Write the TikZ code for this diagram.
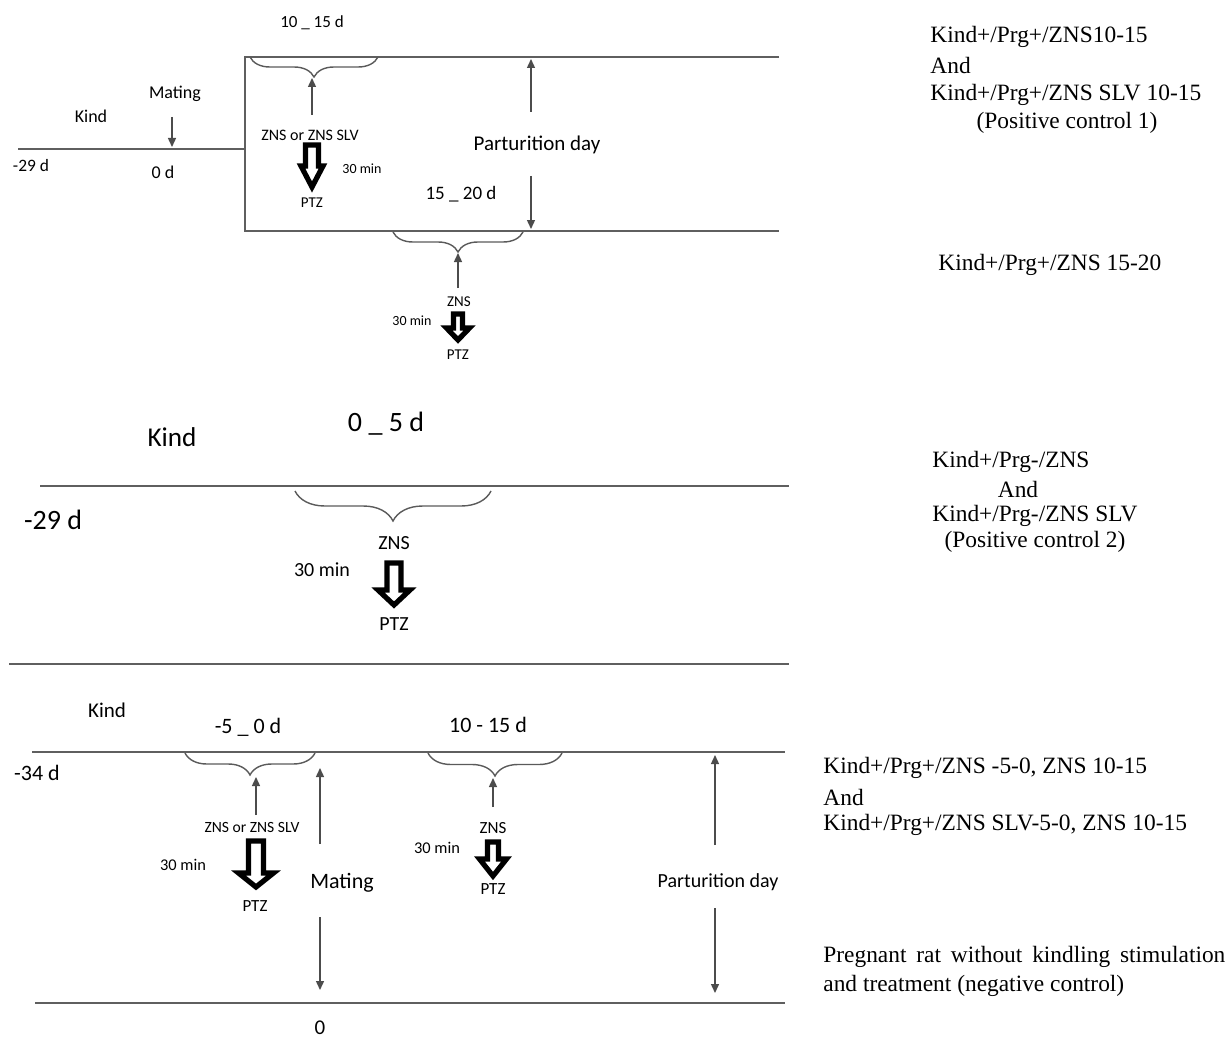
\documentclass[tikz,border=0pt]{standalone}
\usepackage{fontspec}
\setmainfont{Liberation Serif}
\newfontfamily\labfont{Carlito}
\usepackage{tikz}
\usetikzlibrary{arrows.meta, positioning, decorations.pathreplacing, calc}
\usepackage{xcolor}
\definecolor{linegray}{RGB}{95,95,95}
\definecolor{bracegray}{RGB}{90,90,90}

% hollow down arrow: x, top, head start, tip, half shaft, half head
\newcommand{\ptzarrow}[6]{%
  \draw[ptzshape] (#1-#5,#2) -- (#1+#5,#2) -- (#1+#5,#3) -- (#1+#6,#3)
    -- (#1,#4) -- (#1-#6,#3) -- (#1-#5,#3) -- cycle;}

\begin{document}
\begin{tikzpicture}[x=0.5pt, y=-0.5pt,
    lab/.style={font=\labfont\fontsize{#1}{#1}\selectfont, inner sep=0pt},
    ser/.style={font=\fontsize{11.7}{14}\selectfont, inner sep=0pt, anchor=west},
    tline/.style={draw=linegray, line width=1pt},
    brc/.style={decorate, draw=bracegray, line width=0.7pt},
    arr/.style={draw=black!70, line width=0.7pt, -{Triangle[length=4.5pt, width=4pt]}},
    ptzshape/.style={draw=black, fill=white, line width=2.6pt, line join=miter}]
  \useasboundingbox (0,0) rectangle (1227,1038);

  % ---- first protocol: box for pregnancy
  \draw[tline] (18,149) -- (245,149);
  \draw[tline] (779,57) -- (245,57) -- (245,231) -- (779,231);
  \node[lab=9] (kind1) at (91,116) {Kind};
  \node[lab=9] (mate1) at (175,94) {Mating};
  \node[lab=8.7] (start1) at (31,166) {-29 d};
  \node[lab=9] (zero1) at (163,172) {0 d};
  \node[lab=8.5] (win1) at (312,23) {10 \_ 15 d};
  \draw[brc, decoration={brace, amplitude=10pt}] (378,57) -- (250,57);
  \node[lab=8] (zns1) at (310,135) {ZNS or ZNS SLV};
  \node[lab=7] (min1) at (362,169) {30 min};
  \node[lab=7.5] (ptz1) at (312,203) {PTZ};
  \ptzarrow{312}{145}{166}{187}{6.5}{11}
  \node[lab=10.5] (part1) at (537,145) {Parturition day};
  \node[lab=9.5] (win2) at (461,194) {15 \_ 20 d};
  % below the box
  \draw[brc, decoration={brace, amplitude=10pt}] (523,232) -- (393,232);
  \node[lab=7.5] (zns2) at (459,302) {ZNS};
  \node[lab=7] (min2) at (412,321) {30 min};
  \node[lab=7.5] (ptz2) at (458,355) {PTZ};
  \ptzarrow{458}{314}{328}{340}{4.5}{11.5}

  % ---- second protocol: no pregnancy
  \draw[tline] (40,486) -- (789,486);
  \draw[tline] (9,664) -- (789,664);
  \node[lab=13.6] (kind2) at (172,437) {Kind};
  \node[lab=14] (win3) at (386,424) {0 \_ 5 d};
  \node[lab=14] (start2) at (53,520) {-29 d};
  \draw[brc, decoration={brace, amplitude=15pt}] (491,491) -- (295,491);
  \node[lab=10] (zns3) at (394,543) {ZNS};
  \node[lab=10] (min3) at (322,570) {30 min};
  \node[lab=10] (ptz3) at (394,624) {PTZ};
  \ptzarrow{394}{563}{590}{605}{7}{16}

  % ---- third protocol: treatment before mating
  \draw[tline] (32,752) -- (785,752);
  \draw[tline] (35,1003) -- (785,1003);
  \node[lab=10.5] (kind3) at (107,710) {Kind};
  \node[lab=11] (win4) at (248,727) {-5 \_ 0 d};
  \node[lab=11] (start3) at (37,773) {-34 d};
  \draw[brc, decoration={brace, amplitude=11pt}] (315,753) -- (185,753);
  \node[lab=7.8] (zns4) at (252,827) {ZNS or ZNS SLV};
  \node[lab=8.2] (min4) at (183,865) {30 min};
  \node[lab=8.5] (ptz4) at (255,906) {PTZ};
  \ptzarrow{256}{841}{873}{887}{7.5}{17.5}
  \node[lab=11] (mate3) at (342,883) {Mating};
  \node[lab=10.5] (zero3) at (320,1028) {0};
  \node[lab=11] (win5) at (488,725) {10 - 15 d};
  \draw[brc, decoration={brace, amplitude=11.5pt}] (562,753) -- (428,753);
  \node[lab=8.5] (zns5) at (493,828) {ZNS};
  \node[lab=8.2] (min5) at (437,848) {30 min};
  \node[lab=8.5] (ptz5) at (493,889) {PTZ};
  \ptzarrow{493}{842}{859}{876}{5.5}{13.5}
  \node[lab=10] (part3) at (718,882) {Parturition day};

  % thin arrows
  \foreach \n/\xa/\ya/\yb in {mtA/172/117/147, brA/312/115/78, puA/531/112/59,
      pdA/531/176/229, brB/458/288/253, brC/256/815/777, muC/320/844/768,
      mdC/320/917/990, brD/493/807/778, puC/715/845/755, pdC/715/908/993}{
    \coordinate (\n s) at (\xa,\ya);
    \coordinate (\n e) at (\xa,\yb);
    \draw[arr] (\n s) -- (\n e);
  }

  % groups
  \node[ser] (grpA1) at (930,37) {Kind+/Prg+/ZNS10-15};
  \node[ser] (grpA2) at (930,65) {And};
  \node[ser] (grpA3) at (930,95) {Kind+/Prg+/ZNS SLV 10-15};
  \node[ser, anchor=center] (grpA4) at (1067,123) {(Positive control 1)};
  \node[ser] (grpB) at (938,265) {Kind+/Prg+/ZNS 15-20};
  \node[ser] (grpC1) at (932,462) {Kind+/Prg-/ZNS};
  \node[ser, anchor=center] (grpC2) at (1018,489) {And};
  \node[ser] (grpC3) at (932,516) {Kind+/Prg-/ZNS SLV};
  \node[ser, anchor=center] (grpC4) at (1035,542) {(Positive control 2)};
  \node[ser] (grpD1) at (823,768) {Kind+/Prg+/ZNS -5-0, ZNS 10-15};
  \node[ser] (grpD2) at (823,797) {And};
  \node[ser] (grpD3) at (823,825) {Kind+/Prg+/ZNS SLV-5-0, ZNS 10-15};
  \node[ser] (grpE1) at (823,957) {\makebox[201pt][s]{Pregnant rat without kindling stimulation}};
  \node[ser] (grpE2) at (823,986) {and treatment (negative control)};
\end{tikzpicture}
\end{document}
